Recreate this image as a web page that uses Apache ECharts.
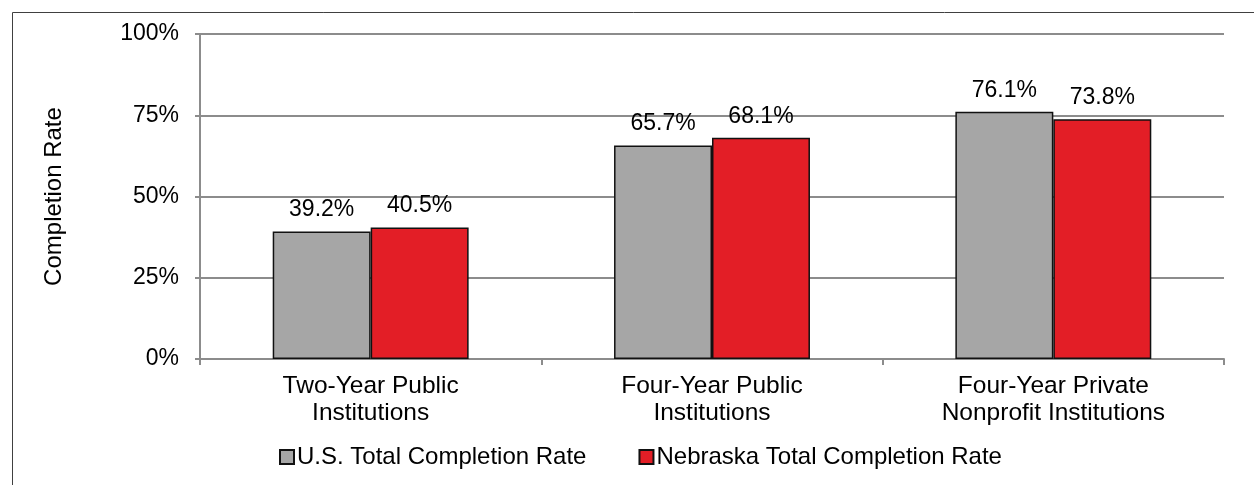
<!DOCTYPE html>
<html>
<head>
<meta charset="utf-8">
<script src="https://cdn.jsdelivr.net/npm/echarts@6/dist/echarts.min.js"></script>
<style>
html,body{margin:0;padding:0;background:#fff;}
#chart{width:1254px;height:485px;}
</style>
</head>
<body>
<div id="chart"></div>
<script>
const categories = ['Two-Year Public\nInstitutions', 'Four-Year Public\nInstitutions', 'Four-Year Private\nNonprofit Institutions'];
const usRates = [39.2, 65.7, 76.1];
const nebraskaRates = [40.5, 68.1, 73.8];
const seriesNames = ['U.S. Total Completion Rate', 'Nebraska Total Completion Rate'];
const yTicks = [0, 25, 50, 75, 100];

const FONT = '"Liberation Sans", Arial, sans-serif';
const chart = echarts.init(document.getElementById('chart'));
const labelCfg = {
  show: true, position: 'top', distance: 10,
  color: '#000', fontSize: 23, fontFamily: FONT,
  formatter: p => p.value.toFixed(1) + '%'
};
chart.setOption({
  animation: false,
  textStyle: { fontFamily: FONT },
  graphic: [{
    type: 'rect', left: 10, top: 10,
    shape: { width: 1300, height: 600 },
    style: { fill: 'none', stroke: '#404040', lineWidth: 1 },
    silent: true
  }],
  grid: { left: 200, right: 30, top: 34, bottom: 126 },
  legend: {
    left: 274, top: 440,
    icon: 'rect',
    itemWidth: 14, itemHeight: 14, itemGap: 52,
    textStyle: { fontSize: 24, color: '#000', fontFamily: FONT, padding: [0, 0, 0, -2] },
    data: seriesNames
  },
  xAxis: {
    type: 'category',
    data: categories,
    axisLine: { lineStyle: { color: '#8c8c8c', width: 2 } },
    axisTick: { show: true, length: 6, lineStyle: { color: '#8c8c8c', width: 2 } },
    axisLabel: { color: '#000', fontSize: 24.5, lineHeight: 27, margin: 14, fontFamily: FONT, interval: 0 }
  },
  yAxis: {
    type: 'value', min: 0, max: 100, interval: 25,
    name: 'Completion Rate', nameLocation: 'middle', nameGap: 134, nameRotate: 90,
    nameTextStyle: { fontSize: 24, color: '#000', fontFamily: FONT },
    axisLine: { show: true, lineStyle: { color: '#8c8c8c', width: 2 } },
    axisTick: { show: true, length: 5, lineStyle: { color: '#8c8c8c', width: 2 } },
    splitLine: { lineStyle: { color: '#8c8c8c', width: 2 } },
    axisLabel: {
      color: '#000', fontSize: 23, margin: 21, fontFamily: FONT,
      formatter: v => yTicks.includes(v) ? v + '%' : ''
    }
  },
  series: [
    {
      name: seriesNames[0], type: 'bar', data: usRates,
      barGap: '0%', barCategoryGap: '42.6%',
      itemStyle: { color: '#A6A6A6', borderColor: '#111', borderWidth: 1.5 },
      label: labelCfg
    },
    {
      name: seriesNames[1], type: 'bar', data: nebraskaRates,
      barGap: '0%', barCategoryGap: '42.6%',
      itemStyle: { color: '#E31E26', borderColor: '#111', borderWidth: 1.5 },
      label: labelCfg
    }
  ]
});
</script>
</body>
</html>
